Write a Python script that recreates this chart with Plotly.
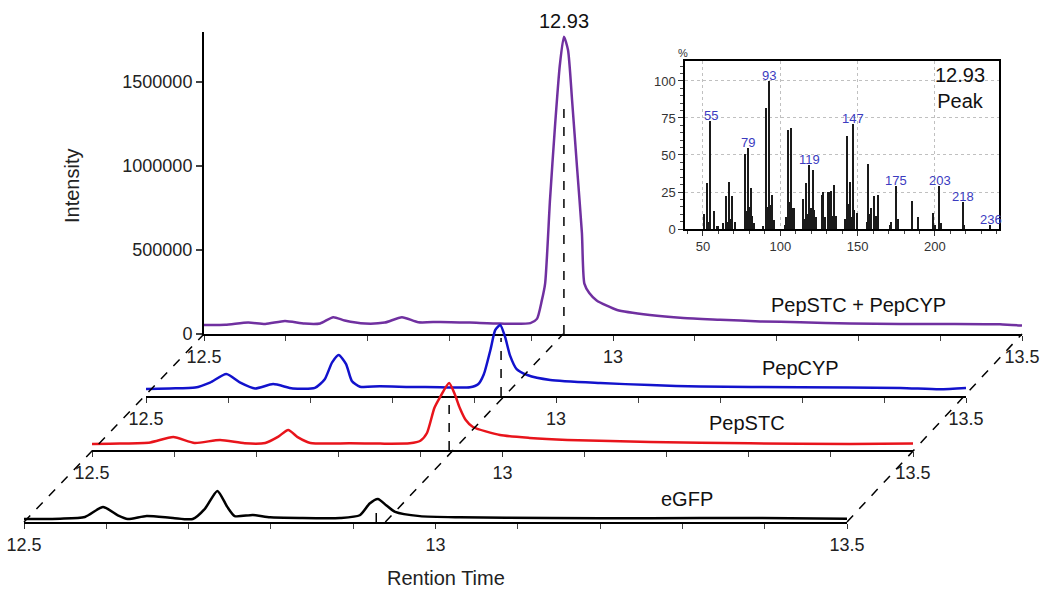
import plotly.graph_objects as go

W, H = 1047, 593

# ---------------- chromatogram data (retention time, min / intensity) ----------------
rt_mix = [12.5, 12.526, 12.554, 12.575, 12.599, 12.623, 12.642, 12.658, 12.672, 12.697,
          12.721, 12.742, 12.762, 12.789, 12.825, 12.862, 12.899, 12.907, 12.913, 12.917,
          12.923, 12.929, 12.935, 12.94, 12.945, 12.95, 12.956, 12.962, 12.965, 12.971,
          12.98, 13.005, 13.045, 13.086, 13.131, 13.18, 13.229, 13.29, 13.351, 13.412,
          13.473, 13.5]
int_mix = [54e3, 55e3, 68e3, 60e3, 78e3, 62e3, 63e3, 100e3, 80e3, 62e3,
           68e3, 100e3, 70e3, 72e3, 68e3, 62e3, 65e3, 90e3, 200e3, 300e3,
           800e3, 1230e3, 1600e3, 1770e3, 1690e3, 1390e3, 994e3, 600e3, 300e3, 244e3,
           200e3, 143e3, 113e3, 95e3, 85e3, 75e3, 70e3, 62e3, 60e3, 60e3,
           58e3, 50e3]

rt_cyp = [12.5, 12.529, 12.56, 12.578, 12.598, 12.615, 12.633, 12.655, 12.679, 12.706,
          12.718, 12.727, 12.735, 12.744, 12.751, 12.761, 12.785, 12.822, 12.859, 12.895,
          12.905, 12.912, 12.92, 12.926, 12.932, 12.938, 12.944, 12.952, 12.965, 12.993,
          13.054, 13.115, 13.176, 13.298, 13.42, 13.468, 13.5]
int_cyp = [42e3, 45e3, 50e3, 80e3, 131e3, 80e3, 45e3, 71e3, 45e3, 48e3,
           100e3, 200e3, 244e3, 190e3, 90e3, 55e3, 58e3, 54e3, 52e3, 52e3,
           70e3, 130e3, 274e3, 393e3, 423e3, 350e3, 240e3, 160e3, 125e3, 95e3,
           77e3, 65e3, 56e3, 52e3, 48e3, 40e3, 48e3]

rt_stc = [12.5, 12.534, 12.571, 12.599, 12.625, 12.656, 12.686, 12.711, 12.727, 12.739,
          12.751, 12.766, 12.814, 12.851, 12.887, 12.9, 12.908, 12.917, 12.924, 12.935,
          12.942, 12.948, 12.955, 12.964, 12.997, 13.033, 13.079, 13.18, 13.301, 13.423,
          13.5]
int_stc = [36e3, 38e3, 45e3, 77e3, 42e3, 60e3, 40e3, 42e3, 80e3, 119e3,
           75e3, 42e3, 40e3, 38e3, 40e3, 55e3, 101e3, 250e3, 315e3, 399e3,
           330e3, 250e3, 180e3, 137e3, 89e3, 72e3, 60e3, 48e3, 40e3, 35e3,
           38e3]

rt_gfp = [12.5, 12.544, 12.574, 12.596, 12.614, 12.626, 12.649, 12.681, 12.705, 12.72,
          12.735, 12.747, 12.756, 12.778, 12.799, 12.835, 12.884, 12.908, 12.92, 12.93,
          12.94, 12.951, 12.981, 13.03, 13.139, 13.261, 13.382, 13.5]
int_gfp = [18e3, 20e3, 30e3, 89e3, 40e3, 18e3, 36e3, 24e3, 18e3, 80e3,
           185e3, 90e3, 35e3, 42e3, 28e3, 24e3, 24e3, 40e3, 110e3, 137e3,
           100e3, 60e3, 35e3, 28e3, 24e3, 22e3, 24e3, 20e3]

sample_names = ["PepSTC + PepCYP", "PepCYP", "PepSTC", "eGFP"]
sample_colors = ["#7030a0", "#1212cc", "#e8141b", "#000000"]
label_rt = [13.30, 13.298, 13.298, 13.306]
label_int = [172000, 167000, 161000, 137000]
peak_rt = [12.94, 12.933, 12.935, 12.928]          # dashed peak markers
peak_marker_top = [1375000, 345000, 298000, 101000]
link_rt = 12.939                                    # diagonal linking the peaks
x_ticks = [12.5, 13, 13.5]
x_tick_text = ["12.5", "13", "13.5"]
y_ticks = [0, 500000, 1000000, 1500000]
y_tick_text = ["0", "500000", "1000000", "1500000"]
peak_label = "12.93"

# ---------------- mass spectrum (inset) ----------------
mz = [51, 53, 54, 55, 57, 59, 60, 63, 65, 66, 67, 68, 69, 71, 77, 78, 79, 80, 81, 82, 83,
      89, 91, 92, 93, 94, 95, 96, 103, 104, 105, 106, 107, 108, 109, 115, 116, 117, 118,
      119, 120, 121, 122, 123, 127, 128, 129, 131, 132, 133, 134, 135, 136, 142, 143, 144,
      145, 146, 147, 148, 150, 156, 157, 158, 159, 161, 162, 163, 171, 172, 175, 176, 185,
      189, 199, 200, 203, 204, 218, 219, 236]
rel_abund = [10, 31, 5, 73, 12, 2, 2, 4, 22, 5, 32, 7, 22, 5, 51, 12, 55, 15, 28, 9, 4,
             2, 82, 15, 100, 16, 23, 6, 3, 8, 67, 18, 68, 14, 14, 20, 7, 31, 10,
             43, 14, 40, 13, 8, 23, 25, 8, 25, 25, 26, 9, 30, 9, 7, 63, 17,
             32, 8, 71, 13, 11, 5, 44, 10, 14, 22, 9, 23, 3, 5, 29, 7, 19,
             8, 11, 3, 29, 4, 18, 3, 3]
labeled_mz = [55, 79, 93, 119, 147, 175, 203, 218, 236]

# ---------------- layout geometry (pixels) ----------------
T0, T1 = 12.5, 13.5
YMAX = 1800000
PANEL_H = 302.4
panels = [dict(x0=204, x1=1022, y0=334),
          dict(x0=146, x1=966, y0=396),
          dict(x0=92, x1=913, y0=450),
          dict(x0=24, x1=847, y0=522)]
FONT = "Arial, 'Liberation Sans', sans-serif"
CLEAR = "rgba(255,255,255,0)"


def to_paper(p, t, v):
    px = p["x0"] + (t - T0) / (T1 - T0) * (p["x1"] - p["x0"])
    py = p["y0"] - v / YMAX * PANEL_H
    return px / W, 1 - py / H


fig = go.Figure()
rts = [rt_mix, rt_cyp, rt_stc, rt_gfp]
ints = [int_mix, int_cyp, int_stc, int_gfp]
layout = {}
shapes = []
annotations = []

for i, p in enumerate(panels):
    sfx = "" if i == 0 else str(i + 1)
    fig.add_trace(go.Scatter(x=rts[i], y=ints[i], mode="lines",
                             line=dict(color=sample_colors[i], width=2.5, shape="spline", smoothing=0.6),
                             xaxis="x" + sfx, yaxis="y" + sfx, showlegend=False,
                             name=sample_names[i]))
    layout["xaxis" + sfx] = dict(
        domain=[p["x0"] / W, p["x1"] / W], range=[T0, T1], anchor="y" + sfx,
        tickvals=x_ticks, ticktext=x_tick_text, ticks="outside", ticklen=5,
        tickwidth=1, tickcolor="#333", showline=True, linecolor="black", linewidth=2,
        showgrid=False, zeroline=False, tickfont=dict(size=18, color="#222", family=FONT),
        minor=dict(dtick=0.1, tick0=12.5, ticks="outside", ticklen=5, tickwidth=1,
                   tickcolor="#444", showgrid=False),
        fixedrange=True)
    ydict = dict(domain=[1 - p["y0"] / H, 1 - (p["y0"] - PANEL_H) / H], range=[0, YMAX],
                 anchor="x" + sfx, fixedrange=True, showgrid=False, zeroline=False)
    if i == 0:
        ydict.update(showline=True, linecolor="black", linewidth=2, ticks="outside",
                     ticklen=6, tickwidth=1.5, tickvals=y_ticks, ticktext=y_tick_text,
                     tickfont=dict(size=18, color="#222", family=FONT))
    else:
        ydict.update(visible=False)
    layout["yaxis" + sfx] = ydict
    # dashed vertical marker at the peak
    shapes.append(dict(type="line", xref="x" + sfx, yref="y" + sfx,
                       x0=peak_rt[i], x1=peak_rt[i], y0=0, y1=peak_marker_top[i],
                       line=dict(color="black", width=1.5, dash="dash")))
    # sample label
    annotations.append(dict(text=sample_names[i], xref="x" + sfx, yref="y" + sfx,
                            x=label_rt[i], y=label_int[i], xanchor="center", yanchor="middle",
                            showarrow=False, font=dict(size=20, color="#111", family=FONT)))

# dashed diagonals connecting the stacked axes
for t in [T0, link_rt, T1]:
    xa, ya = to_paper(panels[-1], t, 0)
    xb, yb = to_paper(panels[0], t, 0)
    shapes.append(dict(type="line", xref="paper", yref="paper", x0=xa, y0=ya, x1=xb, y1=yb,
                       line=dict(color="black", width=1.5, dash="dash")))

# axis titles and peak label
annotations.append(dict(text="Intensity", xref="paper", yref="paper", x=72 / W, y=1 - 186 / H,
                        xanchor="center", yanchor="middle",
                        textangle=-90, showarrow=False, font=dict(size=20, color="#222", family=FONT)))
annotations.append(dict(text="Rention Time", xref="paper", yref="paper", x=446 / W, y=1 - 578 / H,
                        xanchor="center", yanchor="middle",
                        showarrow=False, font=dict(size=20, color="#222", family=FONT)))
annotations.append(dict(text=peak_label, xref="x", yref="y", x=peak_rt[0], y=YMAX,
                        xanchor="center", yanchor="bottom", yshift=-2, showarrow=False,
                        font=dict(size=20, color="#111", family=FONT)))

# ---------------- inset mass spectrum ----------------
fig.add_trace(go.Bar(x=mz, y=rel_abund, width=0.9, marker=dict(color="#1a1a1a", line=dict(width=0)),
                     xaxis="x5", yaxis="y5", showlegend=False))
layout["xaxis5"] = dict(domain=[685 / W, 999 / W], range=[38.4, 241.4], anchor="y5",
                        tickvals=[50, 100, 150, 200], ticks="outside", ticklen=5, tickwidth=1,
                        tickcolor="#333", showline=True, mirror=True, linecolor="black", linewidth=1.5,
                        showgrid=True, gridcolor="#c0c0c0", griddash="dot", gridwidth=1,
                        zeroline=False, tickfont=dict(size=13, color="#333", family=FONT),
                        minor=dict(dtick=10, tick0=0, ticks="outside", ticklen=3, tickcolor="#444",
                                   showgrid=False),
                        fixedrange=True)
layout["yaxis5"] = dict(domain=[1 - 229 / H, 1 - 61 / H], range=[0, 113.5], anchor="x5",
                        tickvals=[0, 25, 50, 75, 100], ticks="outside", ticklen=5, tickwidth=1,
                        tickcolor="#333", showline=True, mirror=True, linecolor="black", linewidth=1.5,
                        showgrid=True, gridcolor="#c0c0c0", griddash="dot", gridwidth=1,
                        zeroline=False, tickfont=dict(size=13, color="#333", family=FONT),
                        minor=dict(dtick=5, tick0=0, ticks="outside", ticklen=3, tickcolor="#444",
                                   showgrid=False),
                        fixedrange=True)
for m in labeled_mz:
    annotations.append(dict(text=str(m), xref="x5", yref="y5", x=m,
                            y=rel_abund[mz.index(m)], xanchor="center", yanchor="bottom", yshift=-4,
                            showarrow=False, font=dict(size=13, color="#3b3bbf", family=FONT)))
annotations.append(dict(text="%", xref="paper", yref="paper", x=683 / W, y=1 - 53 / H,
                        xanchor="center", yanchor="middle",
                        showarrow=False, font=dict(size=11, color="#333", family=FONT)))
annotations.append(dict(text=peak_label + "<br>Peak", xref="paper", yref="paper",
                        x=960 / W, y=1 - 88 / H, xanchor="center", yanchor="middle",
                        showarrow=False, align="center",
                        font=dict(size=20, color="#111", family=FONT)))

fig.update_layout(width=W, height=H, margin=dict(l=0, r=0, t=0, b=0),
                  template="none", paper_bgcolor="white", plot_bgcolor=CLEAR,
                  font=dict(family=FONT), showlegend=False, bargap=0,
                  shapes=shapes, annotations=annotations, **layout)
fig.write_html("out.html", config={"displayModeBar": False},
               post_script="document.body.style.margin='0';document.body.style.overflow='hidden';")
